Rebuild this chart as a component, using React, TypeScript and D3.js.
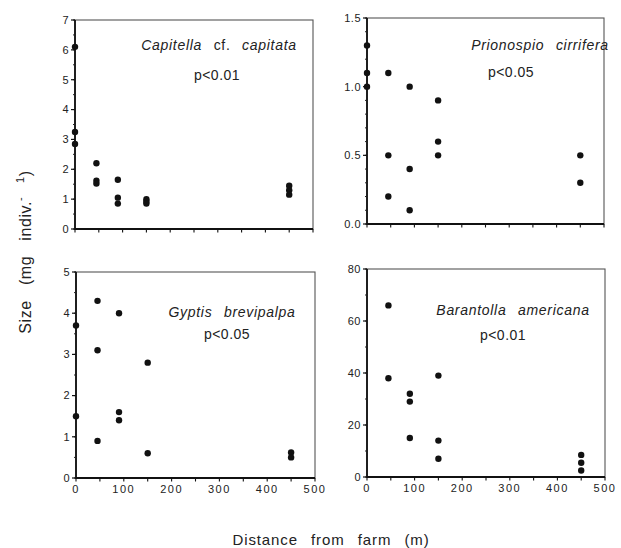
import React from "react";
import * as d3 from "d3";

// distance from farm (m) / size (mg indiv.-1)
const capitella: [number, number][] = [
  [0, 6.1], [0, 3.25], [0, 2.85],
  [45, 2.2], [45, 1.62], [45, 1.52],
  [90, 1.65], [90, 1.05], [90, 0.85],
  [150, 1.0], [150, 0.92], [150, 0.85],
  [450, 1.45], [450, 1.3], [450, 1.15],
];
const prionospio: [number, number][] = [
  [0, 1.3], [0, 1.1], [0, 1.0],
  [45, 1.1], [45, 0.5], [45, 0.2],
  [90, 1.0], [90, 0.4], [90, 0.1],
  [150, 0.9], [150, 0.6], [150, 0.5],
  [450, 0.5], [450, 0.3],
];
const gyptis: [number, number][] = [
  [0, 3.7], [0, 1.5],
  [45, 4.3], [45, 3.1], [45, 0.9],
  [90, 4.0], [90, 1.6], [90, 1.4],
  [150, 2.8], [150, 0.6],
  [450, 0.62], [450, 0.5],
];
const barantolla: [number, number][] = [
  [45, 66], [45, 38],
  [90, 32], [90, 29], [90, 15],
  [150, 39], [150, 14], [150, 7],
  [450, 8.5], [450, 5.5], [450, 2.5],
];

const xTickLabels = [0, 100, 200, 300, 400, 500];

const panels = [
  { genus: "Capitella", cf: "cf.", species: "capitata", p: "p<0.01", data: capitella,
    yMax: 7, yStep: 1, yMinor: 0.5, fmt: d3.format("d"),
    x0: 75, x1: 313, y0: 20, y1: 229, showX: false, nx: 219, ny: 50, px: 217, py: 80 },
  { genus: "Prionospio", cf: "", species: "cirrifera", p: "p<0.05", data: prionospio,
    yMax: 1.5, yStep: 0.5, yMinor: 0.1, fmt: d3.format(".1f"),
    x0: 367, x1: 604, y0: 18, y1: 224, showX: false, nx: 540, ny: 50, px: 511, py: 77 },
  { genus: "Gyptis", cf: "", species: "brevipalpa", p: "p<0.05", data: gyptis,
    yMax: 5, yStep: 1, yMinor: 0.5, fmt: d3.format("d"),
    x0: 76, x1: 315, y0: 272, y1: 478, showX: true, nx: 232, ny: 317, px: 227, py: 339 },
  { genus: "Barantolla", cf: "", species: "americana", p: "p<0.01", data: barantolla,
    yMax: 80, yStep: 20, yMinor: 10, fmt: d3.format("d"),
    x0: 367, x1: 605, y0: 269, y1: 477, showX: true, nx: 513, ny: 315, px: 503, py: 340 },
];

const font = "'Liberation Sans', Arial, Helvetica, sans-serif";

const Panel = ({ cfg }: { cfg: any }) => {
  const x = d3.scaleLinear().domain([0, 500]).range([cfg.x0, cfg.x1]);
  const y = d3.scaleLinear().domain([0, cfg.yMax]).range([cfg.y1, cfg.y0]);
  const major = d3.range(0, cfg.yMax + cfg.yStep / 2, cfg.yStep);
  const minor = d3.range(0, cfg.yMax + cfg.yMinor / 2, cfg.yMinor);
  const xMinor = d3.range(0, 501, 50);

  return (
    <g>
      {/* frame */}
      <rect x={cfg.x0} y={cfg.y0} width={cfg.x1 - cfg.x0} height={cfg.y1 - cfg.y0}
        fill="none" stroke="#555" strokeWidth={1.1} />
      <line x1={cfg.x0} x2={cfg.x0} y1={cfg.y0} y2={cfg.y1 + 1} stroke="#111" strokeWidth={1.8} />
      <line x1={cfg.x0} x2={cfg.x1} y1={cfg.y1} y2={cfg.y1} stroke="#111" strokeWidth={1.8} />

      {/* y ticks */}
      {minor.map((v) => (
        <line key={"m" + v} x1={cfg.x0 - 2} x2={cfg.x0} y1={y(v)} y2={y(v)} stroke="#222" strokeWidth={1} />
      ))}
      {major.map((v) => (
        <g key={"M" + v}>
          <line x1={cfg.x0 - 4} x2={cfg.x0} y1={y(v)} y2={y(v)} stroke="#111" strokeWidth={1.2} />
          <text x={cfg.x0 - 6} y={y(v)} dy="0.35em" textAnchor="end" fontSize={11}
            fontFamily={font} fill="#222" letterSpacing={0.5}>{cfg.fmt(v)}</text>
        </g>
      ))}

      {/* x ticks */}
      {xMinor.map((v) => (
        <line key={"x" + v} x1={x(v)} x2={x(v)} y1={cfg.y1} y2={cfg.y1 + 3.5} stroke="#111" strokeWidth={1.1} />
      ))}
      {cfg.showX && xTickLabels.map((v) => (
        <text key={"xl" + v} x={x(v)} y={cfg.y1 + 15} textAnchor="middle" fontSize={11}
          fontFamily={font} fill="#222" letterSpacing={1.5}>{v}</text>
      ))}

      {/* points */}
      {cfg.data.map((d: [number, number], i: number) => (
        <circle key={i} cx={x(d[0])} cy={y(d[1])} r={3.2} fill="#111" />
      ))}

      {/* labels */}
      <text x={cfg.nx} y={cfg.ny} textAnchor="middle" fontSize={14} fontFamily={font}
        fill="#222" letterSpacing={0.7} wordSpacing={7}>
        <tspan fontStyle="italic">{cfg.genus}</tspan>
        {cfg.cf ? <tspan> {cfg.cf}</tspan> : null}
        <tspan fontStyle="italic"> {cfg.species}</tspan>
      </text>
      <text x={cfg.px} y={cfg.py} textAnchor="middle" fontSize={14} fontFamily={font}
        fill="#222" letterSpacing={0.5}>{cfg.p}</text>
    </g>
  );
};

export default function App() {
  return (
    <svg width={621} height={548} style={{ position: "absolute", left: 0, top: 0, background: "#fff" }}>
      <rect width={621} height={548} fill="#fff" />
      {panels.map((p, i) => <Panel key={i} cfg={p} />)}
      <text transform="translate(31,252) rotate(-90)" textAnchor="middle" fontSize={16}
        fontFamily={font} fill="#222" letterSpacing={0.6} wordSpacing={10}>
        Size (mg indiv.<tspan fontSize={11} dy={-7}>- 1</tspan><tspan dy={7}>)</tspan>
      </text>
      <text x={331} y={545} textAnchor="middle" fontSize={15} fontFamily={font}
        fill="#222" letterSpacing={0.9} wordSpacing={8}>Distance from farm (m)</text>
    </svg>
  );
}
